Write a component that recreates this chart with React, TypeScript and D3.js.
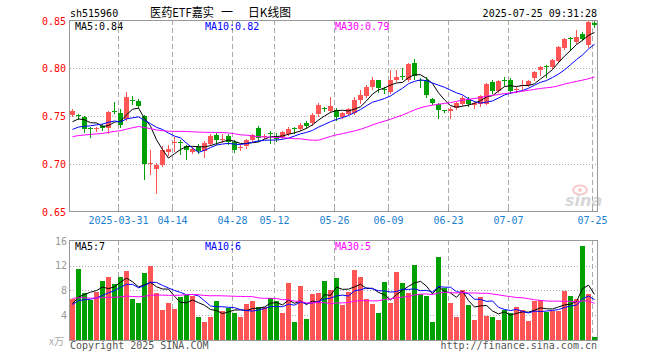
import React from "react";
import * as d3 from "d3";

const dates: string[] = [
  "2025-03-19","2025-03-20","2025-03-21","2025-03-24","2025-03-25","2025-03-26","2025-03-27","2025-03-28","2025-03-31",
  "2025-04-01","2025-04-02","2025-04-03","2025-04-07","2025-04-08","2025-04-09","2025-04-10","2025-04-11","2025-04-14","2025-04-15","2025-04-16","2025-04-17","2025-04-18","2025-04-21","2025-04-22","2025-04-23","2025-04-24","2025-04-25","2025-04-28","2025-04-29","2025-04-30",
  "2025-05-06","2025-05-07","2025-05-08","2025-05-09","2025-05-12","2025-05-13","2025-05-14","2025-05-15","2025-05-16","2025-05-19","2025-05-20","2025-05-21","2025-05-22","2025-05-23","2025-05-26","2025-05-27","2025-05-28","2025-05-29","2025-05-30",
  "2025-06-03","2025-06-04","2025-06-05","2025-06-06","2025-06-09","2025-06-10","2025-06-11","2025-06-12","2025-06-13","2025-06-16","2025-06-17","2025-06-18","2025-06-19","2025-06-20","2025-06-23","2025-06-24","2025-06-25","2025-06-26","2025-06-27","2025-06-30",
  "2025-07-01","2025-07-02","2025-07-03","2025-07-04","2025-07-07","2025-07-08","2025-07-09","2025-07-10","2025-07-11","2025-07-14","2025-07-15","2025-07-16","2025-07-17","2025-07-18","2025-07-21","2025-07-22","2025-07-23","2025-07-24","2025-07-25",
];

const openP: number[] = [
  0.751,0.751,0.749,0.737,0.736,0.740,0.738,0.755,0.753,0.747,
  0.767,0.766,0.750,0.700,0.695,0.699,0.712,0.722,0.723,0.719,
  0.713,0.718,0.714,0.721,0.730,0.725,0.729,0.723,0.717,0.719,
  0.725,0.737,0.728,0.732,0.727,0.728,0.731,0.737,0.736,0.743,
  0.743,0.752,0.758,0.755,0.756,0.749,0.752,0.753,0.767,0.771,
  0.780,0.787,0.778,0.775,0.787,0.792,0.787,0.805,0.788,0.788,
  0.768,0.762,0.756,0.755,0.758,0.763,0.768,0.761,0.762,0.763,
  0.785,0.776,0.788,0.788,0.777,0.781,0.782,0.790,0.798,0.802,
  0.801,0.807,0.821,0.831,0.827,0.835,0.824,0.847,
];
const highP: number[] = [
  0.757,0.752,0.750,0.739,0.739,0.742,0.755,0.765,0.757,0.775,
  0.771,0.768,0.751,0.715,0.701,0.719,0.720,0.728,0.725,0.720,
  0.718,0.721,0.724,0.731,0.732,0.731,0.731,0.725,0.720,0.726,
  0.731,0.740,0.731,0.734,0.732,0.734,0.739,0.739,0.743,0.745,
  0.753,0.764,0.759,0.770,0.758,0.754,0.758,0.770,0.777,0.782,
  0.791,0.788,0.780,0.798,0.798,0.800,0.805,0.809,0.790,0.791,
  0.769,0.764,0.756,0.759,0.765,0.771,0.770,0.766,0.772,0.784,
  0.787,0.787,0.791,0.790,0.780,0.787,0.788,0.797,0.802,0.803,
  0.809,0.823,0.831,0.832,0.840,0.837,0.849,0.849,
];
const lowP: number[] = [
  0.750,0.747,0.733,0.728,0.734,0.735,0.732,0.753,0.739,0.746,
  0.762,0.759,0.684,0.690,0.670,0.698,0.709,0.714,0.710,0.705,
  0.711,0.711,0.707,0.720,0.721,0.723,0.721,0.712,0.715,0.717,
  0.724,0.724,0.727,0.722,0.724,0.727,0.730,0.732,0.735,0.737,
  0.741,0.750,0.755,0.754,0.746,0.748,0.751,0.752,0.764,0.770,
  0.778,0.775,0.774,0.774,0.786,0.789,0.786,0.789,0.780,0.770,
  0.763,0.748,0.754,0.748,0.757,0.761,0.760,0.758,0.760,0.762,
  0.774,0.775,0.782,0.774,0.775,0.777,0.781,0.788,0.793,0.791,
  0.800,0.806,0.820,0.819,0.826,0.829,0.822,0.843,
];
const closeP: number[] = [
  0.755,0.750,0.736,0.736,0.737,0.737,0.754,0.754,0.741,0.770,
  0.766,0.760,0.700,0.701,0.699,0.715,0.716,0.723,0.722,0.715,
  0.716,0.714,0.722,0.729,0.725,0.726,0.723,0.715,0.718,0.725,
  0.730,0.727,0.729,0.731,0.726,0.733,0.736,0.736,0.741,0.740,
  0.751,0.761,0.757,0.760,0.749,0.753,0.757,0.767,0.772,0.780,
  0.788,0.779,0.777,0.787,0.791,0.791,0.804,0.792,0.787,0.772,
  0.764,0.756,0.755,0.757,0.764,0.769,0.762,0.764,0.771,0.783,
  0.776,0.786,0.787,0.776,0.778,0.782,0.786,0.796,0.801,0.801,
  0.808,0.822,0.830,0.830,0.832,0.830,0.848,0.845,
];
// volume, 万手
const volume: number[] = [
  6.6,11.5,7.5,6.4,7.8,9.5,10.2,9.0,10.1,11.1,
  6.6,6.0,10.8,12.0,7.5,4.8,5.9,5.0,7.0,7.2,
  7.1,3.7,2.9,3.6,6.3,4.65,5.1,4.4,3.7,5.8,
  6.3,5.35,5.35,6.8,6.3,4.4,9.2,2.8,8.7,3.35,
  7.4,7.6,9.5,8.05,10.05,5.6,7.8,11.3,10.2,6.6,
  5.8,4.4,9.4,6.0,11.0,9.25,7.6,12.1,7.35,7.1,
  2.9,13.45,8.4,6.0,3.6,8.05,5.6,3.2,7.0,3.9,
  3.6,3.2,4.8,4.4,5.35,4.8,3.0,6.3,6.4,4.55,
  4.65,4.65,7.9,7.1,6.6,15.2,7.4,0.45,
];
// sessions before the visible window (only feed the moving averages)
const priorClose: number[] = [
  0.716,0.718,0.720,0.719,0.722,0.721,0.723,0.720,0.722,0.722,0.723,
  0.730,0.736,0.740,0.738,
  0.733,0.727,0.722,0.720,0.723,
  0.725,0.728,0.731,0.727,0.729,
  0.735,0.741,0.751,0.738,
];
const priorVolume: number[] = [
  8.5,7.2,9.1,6.8,8.0,7.5,9.6,8.2,7.0,8.8,7.4,8.1,7.3,
  6.2,5.4,6.8,5.1,6.0,5.5,5.5,
  5.2,6.1,5.4,5.8,5.4,
  6.0,5.5,4.5,6.5,
];

const priceTicks: number[] = [0.85, 0.8, 0.75, 0.7, 0.65];
const volumeTicks: number[] = [16, 12, 8, 4];
const dateTicks: string[] = ["2025-03-31","2025-04-14","2025-04-28","2025-05-12","2025-05-26","2025-06-09","2025-06-23","2025-07-07","2025-07-25"];
const priceLegend: string[] = ["MA5:0.84", "MA10:0.82", "MA30:0.79"];
const volumeLegend: string[] = ["MA5:7", "MA10:6", "MA30:5"];
const maPeriods: number[] = [5, 10, 30];
const maColors: string[] = ["#000000", "#0000ff", "#ff00ff"];

const RED = "#ff5555";
const GREEN = "#00a000";
const GRID = "#aaaaaa";
const MONO = "'DejaVu Sans Mono', monospace";

function movingAverage(values: number[], prior: number[], k: number): number[] {
  const all = prior.concat(values);
  return values.map((_, i) => {
    const end = prior.length + i + 1;
    return d3.mean(all.slice(end - k, end)) as number;
  });
}

export default function App() {
  const left = 70, right = 597;
  const pTop = 20, pBottom = 212;
  const vTop = 240, vBottom = 340;

  const x = d3.scalePoint<string>().domain(dates).range([70, 592]);
  const yP = d3.scaleLinear().domain([0.65, 0.85]).range([pBottom, pTop]);
  const yV = d3.scaleLinear().domain([0, 16]).range([339.7, 241]);
  const bw = 5;
  const cx = (i: number) => (x(dates[i]) as number) + 2.5;

  const priceMA = maPeriods.map((k) => movingAverage(closeP, priorClose, k));
  const volMA = maPeriods.map((k) => movingAverage(volume, priorVolume, k));

  const pLine = (arr: number[]) =>
    d3.line<number>().x((_, i) => cx(i)).y((d) => yP(d))(arr) as string;
  const vLine = (arr: number[]) =>
    d3.line<number>().x((_, i) => cx(i)).y((d) => yV(d))(arr) as string;

  const legendX = [75, 205, 335];

  return (
    <svg
      width={660}
      height={360}
      style={{ position: "absolute", left: 0, top: 0, background: "#fff" }}
      fontFamily={MONO}
      fontSize={10}
    >
      <defs>
        <clipPath id="pclip">
          <rect x={left} y={pTop} width={right - left} height={pBottom - pTop} />
        </clipPath>
        <clipPath id="vclip">
          <rect x={left} y={vTop} width={right - left} height={vBottom - vTop} />
        </clipPath>
      </defs>

      {/* header */}
      <text x={70} y={17} fill="#000">sh515960</text>
      <g fontFamily="'Noto Sans CJK SC', sans-serif" fontSize={12} fill="#000">
        <text x={150} y={17} textLength={64} lengthAdjust="spacingAndGlyphs">医药ETF嘉实</text>
        <text x={221} y={17}>一</text>
        <text x={248} y={17} textLength={43} lengthAdjust="spacingAndGlyphs">日K线图</text>
      </g>
      <text x={597} y={17} textAnchor="end" fill="#000">2025-07-25 09:31:28</text>

      {/* price grid */}
      {priceTicks.slice(1, -1).map((t) => (
        <line key={"pg" + t} x1={left} x2={right} y1={Math.round(yP(t)) + 0.5} y2={Math.round(yP(t)) + 0.5}
          stroke={GRID} strokeDasharray="1,2" />
      ))}
      {dateTicks.map((d) => (
        <line key={"vgp" + d} x1={(x(d) as number) + 0.5} x2={(x(d) as number) + 0.5} y1={pTop} y2={pBottom}
          stroke={GRID} strokeDasharray="5,3" />
      ))}
      {dateTicks.map((d) => (
        <line key={"vgv" + d} x1={(x(d) as number) + 0.5} x2={(x(d) as number) + 0.5} y1={vTop} y2={vBottom}
          stroke={GRID} strokeDasharray="5,3" />
      ))}
      {volumeTicks.slice(1).map((t) => (
        <line key={"vg" + t} x1={left} x2={right} y1={Math.round(yV(t)) + 0.5} y2={Math.round(yV(t)) + 0.5}
          stroke={GRID} strokeDasharray="1,2" />
      ))}

      {/* sina watermark */}
      <g opacity={0.55}>
        <ellipse cx={580} cy={190} rx={7} ry={4.5} fill="none" stroke="#f0a0a0" strokeWidth={2} />
        <circle cx={580} cy={190} r={2} fill="#f0a0a0" />
        <text x={565} y={206} fontFamily="'DejaVu Sans', sans-serif" fontStyle="italic" fontWeight="bold"
          fontSize={16} fill="#b8b8b8">sina</text>
      </g>

      {/* candles */}
      <g clipPath="url(#pclip)" shapeRendering="crispEdges">
        {closeP.map((c, i) => {
          const o = openP[i];
          const up = c >= o;
          const col = up ? RED : GREEN;
          const x0 = x(dates[i]) as number;
          const yTop = Math.round(yP(Math.max(o, c)));
          const yBot = Math.round(yP(Math.min(o, c)));
          const h = Math.max(1, yBot - yTop);
          return (
            <g key={"c" + i}>
              <line x1={x0 + 2.5} x2={x0 + 2.5} y1={Math.round(yP(highP[i]))} y2={Math.round(yP(lowP[i])) + 1}
                stroke={col} />
              <rect x={x0} y={yTop} width={bw} height={h} fill={col} />
            </g>
          );
        })}
      </g>
      <g clipPath="url(#pclip)" fill="none" strokeWidth={1}>
        {priceMA.map((m, k) => (
          <path key={"pm" + k} d={pLine(m)} stroke={maColors[k]} />
        ))}
      </g>

      {/* volume bars */}
      <g clipPath="url(#vclip)" shapeRendering="crispEdges">
        {volume.map((v, i) => {
          const up = closeP[i] >= openP[i];
          const x0 = x(dates[i]) as number;
          const yT = Math.round(yV(v));
          return <rect key={"v" + i} x={x0} y={yT} width={bw} height={Math.max(1, vBottom - yT)} fill={up ? RED : GREEN} />;
        })}
      </g>
      <g clipPath="url(#vclip)" fill="none" strokeWidth={1}>
        {volMA.map((m, k) => (
          <path key={"vm" + k} d={vLine(m)} stroke={maColors[k]} />
        ))}
      </g>

      {/* panel borders */}
      <rect x={left - 0.5} y={pTop + 0.5} width={right - left + 1} height={pBottom - pTop - 1} fill="none" stroke="#999" />
      <rect x={left - 0.5} y={vTop + 0.5} width={right - left + 1} height={vBottom - vTop} fill="none" stroke="#999" />

      {/* legends */}
      {priceLegend.map((s, k) => (
        <text key={"pl" + k} x={legendX[k]} y={30} fill={maColors[k]}>{s}</text>
      ))}
      {volumeLegend.map((s, k) => (
        <text key={"vl" + k} x={legendX[k]} y={250} fill={maColors[k]}>{s}</text>
      ))}

      {/* price axis labels */}
      {priceTicks.map((t) => (
        <text key={"pt" + t} x={66} y={Math.max(yP(t) + 4, 25)} textAnchor="end" fill="#ff0000">
          {t.toFixed(2)}
        </text>
      ))}
      {/* volume axis labels */}
      {volumeTicks.map((t) => (
        <text key={"vt" + t} x={67} y={yV(t) + 3.5} textAnchor="end" fill="#999">{t}</text>
      ))}
      <text x={64} y={345} textAnchor="end" fill="#aaa" fontFamily="'Noto Sans CJK SC', sans-serif" fontSize={10}>x万</text>

      {/* date labels */}
      {dateTicks.map((d, i) => (
        <g key={"dt" + d}>
          <line x1={(x(d) as number) + 0.5} x2={(x(d) as number) + 0.5} y1={pBottom - 3} y2={pBottom} stroke="#999" />
          <text x={(x(d) as number) + 0.5} y={224} textAnchor="middle" fill="#1a80d0">
            {i === 0 ? d : d.slice(5)}
          </text>
        </g>
      ))}

      {/* footer */}
      <text x={70} y={349} fill="#555">Copyright 2025 SINA.COM</text>
      <text x={597} y={349} textAnchor="end" fill="#555">http://finance.sina.com.cn</text>
    </svg>
  );
}
